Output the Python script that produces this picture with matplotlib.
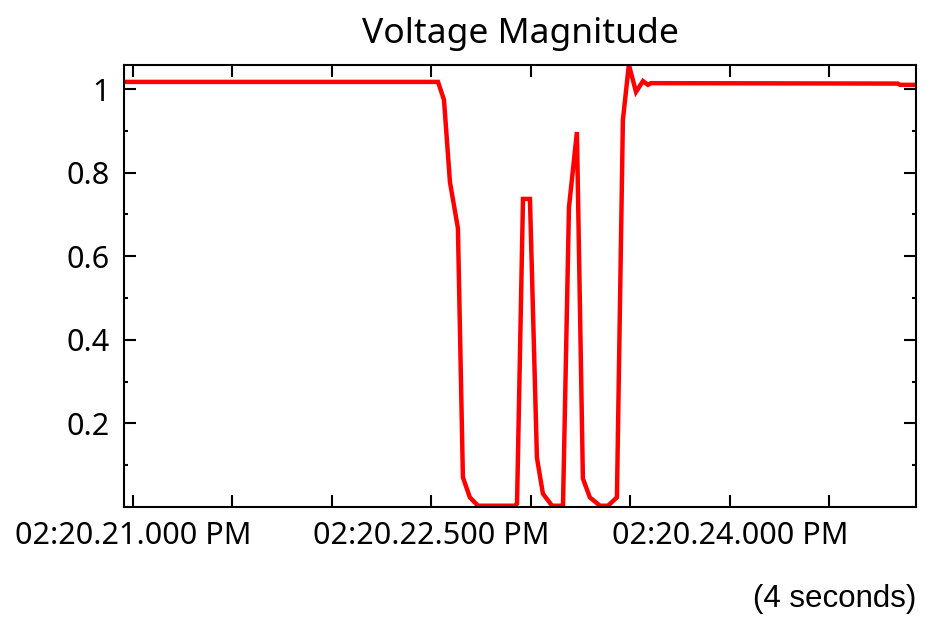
"""
Voltage magnitude over a ~4 second window, recreated from a screenshot.
"""
from matplotlib import pyplot as plt
import matplotlib.ticker as ticker

# time in seconds past 02:20 (minutes:seconds)
seconds = [20.955, 22.533, 22.563, 22.593, 22.633, 22.658, 22.693, 22.734,
           22.920, 22.930, 22.960, 22.995, 23.030, 23.060, 23.106, 23.161,
           23.191, 23.231, 23.261, 23.296, 23.347, 23.387, 23.432, 23.462,
           23.492, 23.528, 23.563, 23.588, 23.603, 24.844, 24.854, 24.935]
voltage = [1.017, 1.017, 0.974, 0.777, 0.667, 0.071, 0.023, 0.003,
           0.003, 0.008, 0.737, 0.737, 0.118, 0.032, 0.003, 0.003,
           0.717, 0.897, 0.068, 0.023, 0.003, 0.003, 0.023, 0.926,
           1.058, 0.993, 1.019, 1.010, 1.014, 1.013, 1.010, 1.010]
y_ticks = [0.2, 0.4, 0.6, 0.8, 1.0]


def time_label(s, _):
    # 21.0 -> "02:20.21.000 PM"
    return f"02:20.{s:06.3f} PM"


plt.rcParams['font.family'] = ['Noto Sans', 'DejaVu Sans']

fig = plt.figure(figsize=(9.31, 6.17), dpi=100)
ax = fig.add_axes([0.1332, 0.1783, 0.8507, 0.7164])
ax.plot(seconds, voltage, color='#ff0000', linewidth=3.2, solid_joinstyle='miter')

ax.set_xlim(20.955, 24.935)
ax.set_ylim(0, 1.0575)
ax.set_title("Voltage Magnitude", fontsize=25.5, pad=16)

ax.xaxis.set_major_locator(ticker.MultipleLocator(1.5))
ax.xaxis.set_minor_locator(ticker.MultipleLocator(0.5))
ax.xaxis.set_major_formatter(ticker.FuncFormatter(time_label))
ax.set_yticks(y_ticks)
ax.yaxis.set_minor_locator(ticker.MultipleLocator(0.1))
ax.yaxis.set_major_formatter(ticker.FuncFormatter(lambda y, _: '{:g}'.format(y)))

ax.tick_params(which='both', direction='in', top=True, right=True,
               width=1.5, labelsize=22, color='black')
ax.tick_params(axis='x', which='both', length=8.5, pad=10)
ax.tick_params(axis='y', which='major', length=8.5, pad=10)
ax.tick_params(axis='y', which='minor', length=3)
for spine in ax.spines.values():
    spine.set_linewidth(1.5)

fig.text(0.984, 0.016, "(4 seconds)", ha='right', va='baseline',
         fontsize=22.5, family=['Liberation Sans', 'DejaVu Sans'])

fig.savefig("out.png", dpi=100)
